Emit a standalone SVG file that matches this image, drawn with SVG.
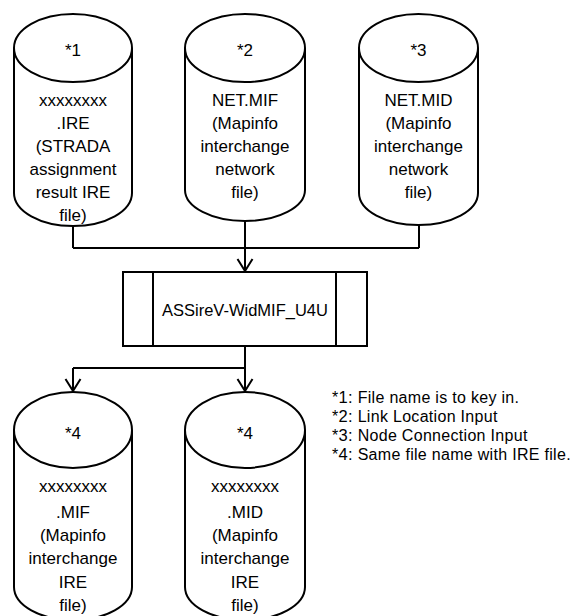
<svg xmlns="http://www.w3.org/2000/svg" width="583" height="616" viewBox="0 0 583 616">
<defs>
<style>
.cyl{fill:#fff;stroke:#000;stroke-width:2}
.box{fill:#fff;stroke:#000;stroke-width:2}
.con{fill:none;stroke:#000;stroke-width:2}
text{font-family:"Liberation Sans",Arial,sans-serif;fill:#000}
.t{font-size:17px;text-anchor:middle}
.p{font-size:16.5px;text-anchor:middle}
.lg{font-size:16px;letter-spacing:0.3px}
.lgn{font-size:16.5px}
</style>
<marker id="arr" markerUnits="userSpaceOnUse" viewBox="0 -9 14 18" refX="13" refY="0" markerWidth="14" markerHeight="18" orient="auto">
<path d="M1,-7.5 L13,0 L1,7.5" fill="none" stroke="#000" stroke-width="2"/>
</marker>
</defs>
<rect width="583" height="616" fill="#fff"/>
<g id="connectors">
<path class="con" d="M73,226 V248 M245,221 V248 M419,225 V248 M73,248 H419"/>
<path class="con" d="M245,248 V271" marker-end="url(#arr)"/>
<path class="con" d="M245,346 V368 M73,368 H245"/>
<path class="con" d="M73,368 V391" marker-end="url(#arr)"/>
<path class="con" d="M245,368 V391" marker-end="url(#arr)"/>
</g>
<g id="file1">
<path class="cyl" d="M14,48 V193 A59,33 0 0 0 132,193 V48"/>
<ellipse class="cyl" cx="73" cy="48" rx="59" ry="34"/>
<text class="t" x="73" y="56">*1</text>
<text class="t" x="73" y="106">xxxxxxxx</text>
<text class="t" x="73" y="129">.IRE</text>
<text class="t" x="73" y="152">(STRADA</text>
<text class="t" x="73" y="175">assignment</text>
<text class="t" x="73" y="198">result IRE</text>
<text class="t" x="73" y="221">file)</text>
</g>
<g id="file2">
<path class="cyl" d="M185,48 V190 A60,31 0 0 0 305,190 V48"/>
<ellipse class="cyl" cx="245" cy="48" rx="60" ry="34"/>
<text class="t" x="245" y="56">*2</text>
<text class="t" x="245" y="106">NET.MIF</text>
<text class="t" x="245" y="129">(Mapinfo</text>
<text class="t" x="245" y="152">interchange</text>
<text class="t" x="245" y="175">network</text>
<text class="t" x="245" y="198">file)</text>
</g>
<g id="file3">
<path class="cyl" d="M359,48 V193 A59.5,32 0 0 0 478,193 V48"/>
<ellipse class="cyl" cx="418.5" cy="48" rx="59.5" ry="34"/>
<text class="t" x="418.5" y="56">*3</text>
<text class="t" x="418.5" y="106">NET.MID</text>
<text class="t" x="418.5" y="129">(Mapinfo</text>
<text class="t" x="418.5" y="152">interchange</text>
<text class="t" x="418.5" y="175">network</text>
<text class="t" x="418.5" y="198">file)</text>
</g>
<g id="program">
<rect class="box" x="123" y="272" width="244" height="74"/>
<path class="con" d="M153,272 V346 M336,272 V346"/>
<text class="p" x="245" y="316">ASSireV-WidMIF_U4U</text>
</g>
<g id="file4">
<path class="cyl" d="M14,430 V587 A59,33 0 0 0 132,587 V430"/>
<ellipse class="cyl" cx="73" cy="430" rx="59" ry="38"/>
<text class="t" x="73" y="439">*4</text>
<text class="t" x="73" y="492">xxxxxxxx</text>
<text class="t" x="73" y="518">.MIF</text>
<text class="t" x="73" y="541">(Mapinfo</text>
<text class="t" x="73" y="564">interchange</text>
<text class="t" x="73" y="588">IRE</text>
<text class="t" x="73" y="611">file)</text>
</g>
<g id="file5">
<path class="cyl" d="M185,430 V587 A60,33 0 0 0 305,587 V430"/>
<ellipse class="cyl" cx="245" cy="430" rx="60" ry="38"/>
<text class="t" x="245" y="439">*4</text>
<text class="t" x="245" y="492">xxxxxxxx</text>
<text class="t" x="245" y="518">.MID</text>
<text class="t" x="245" y="541">(Mapinfo</text>
<text class="t" x="245" y="564">interchange</text>
<text class="t" x="245" y="588">IRE</text>
<text class="t" x="245" y="611">file)</text>
</g>
<g id="legend">
<text class="lg" x="332" y="403">*<tspan class="lgn">1:</tspan> File name is to key in.</text>
<text class="lg" x="332" y="422">*<tspan class="lgn">2:</tspan> Link Location Input</text>
<text class="lg" x="332" y="441">*<tspan class="lgn">3:</tspan> Node Connection Input</text>
<text class="lg" x="332" y="460">*<tspan class="lgn">4:</tspan> Same file name with IRE file.</text>
</g>
</svg>
